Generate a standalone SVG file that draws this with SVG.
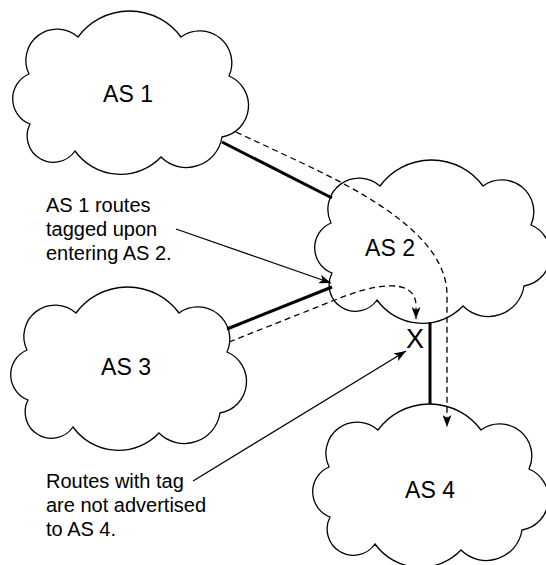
<svg xmlns="http://www.w3.org/2000/svg" width="546" height="565" viewBox="0 0 546 565">
<style>
.cloud{fill:#fff;stroke:#000;stroke-width:1.3}
.lbl{font-family:"Liberation Sans",Arial,Helvetica,sans-serif;font-size:23px;fill:#000;text-anchor:middle}
.note{font-family:"Liberation Sans",Arial,Helvetica,sans-serif;font-size:20px;fill:#000}
.thick{stroke:#000;stroke-width:3;fill:none}
.dash{stroke:#000;stroke-width:1.3;fill:none;stroke-dasharray:6 4}
.thin{stroke:#000;stroke-width:1.3;fill:none}
</style>
<defs>
<path id="cloudShape" d="M 65 26 A 64 64 0 0 1 168 26 A 32 32 0 0 1 216 65 A 32 32 0 0 1 209 126 A 36 36 0 0 1 148 146 A 56 56 0 0 1 62 140 A 26.3 26.3 0 0 1 17 113 A 27 27 0 0 1 16 63 A 31.3 31.3 0 0 1 65 26 Z"/>
<marker id="arrow" markerUnits="userSpaceOnUse" markerWidth="12" markerHeight="9" viewBox="0 0 12 9" refX="12" refY="4.5" orient="auto"><path d="M0,0 L12,4.5 L0,9 L3,4.5 Z" fill="#000"/></marker>
</defs>
<g id="as1"><use href="#cloudShape" class="cloud" x="13" y="11"/><text class="lbl" x="128" y="101.5">AS 1</text></g>
<g id="as2"><use href="#cloudShape" class="cloud" x="315" y="160"/><text class="lbl" x="390" y="256">AS 2</text></g>
<g id="as3"><use href="#cloudShape" class="cloud" x="11" y="287"/><text class="lbl" x="126" y="375">AS 3</text></g>
<g id="as4"><use href="#cloudShape" class="cloud" x="313" y="404"/><text class="lbl" x="430" y="498">AS 4</text></g>
<g id="note-tagged"><text class="note"><tspan x="46" y="212">AS 1 routes</tspan><tspan x="46" y="236">tagged upon</tspan><tspan x="46" y="260">entering AS 2.</tspan></text></g>
<g id="note-not-advertised"><text class="note"><tspan x="46" y="488">Routes with tag</tspan><tspan x="46" y="512">are not advertised</tspan><tspan x="46" y="536">to AS 4.</tspan></text></g>
<g id="filter-x"><text class="lbl" x="415" y="348" style="font-size:27px">X</text></g>
<g id="connectors">
<path class="thick" d="M222 142 L332 198"/>
<path class="thick" d="M227 329 L332 287"/>
<path class="thick" d="M430 322 L430 404"/>
<path class="dash" d="M236 132 L300 162 C370 195 447 238 447 295 L447 427" marker-end="url(#arrow)"/>
<path class="dash" d="M229 342 L340 298 C370 286 416 275 416 306 L416 319" marker-end="url(#arrow)"/>
<path class="thin" d="M176 229 L331 283" marker-end="url(#arrow)"/>
<path class="thin" d="M193 481 L406 351" marker-end="url(#arrow)"/>
</g>
</svg>
